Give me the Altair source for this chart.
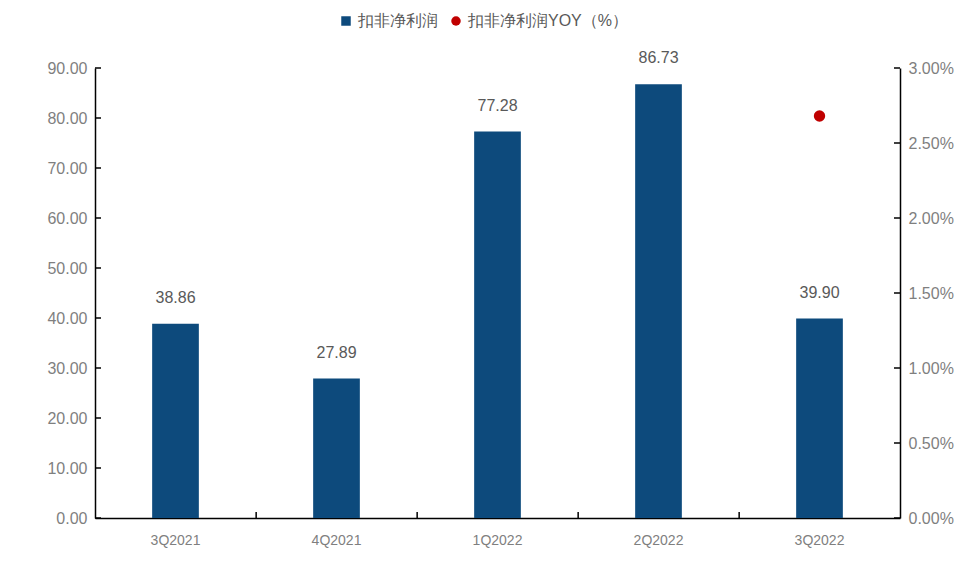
import altair as alt
import pandas as pd

quarters = ["3Q2021", "4Q2021", "1Q2022", "2Q2022", "3Q2022"]
profit = [38.86, 27.89, 77.28, 86.73, 39.90]
yoy = [None, None, None, None, 0.0268]
series = ["扣非净利润", "扣非净利润YOY（%）"]
left_ticks = [0, 10, 20, 30, 40, 50, 60, 70, 80, 90]
right_ticks = [0, 0.005, 0.01, 0.015, 0.02, 0.025, 0.03]

df = pd.DataFrame({"q": quarters, "profit": profit, "yoy": yoy})
df["s1"] = series[0]
df["s2"] = series[1]
lt = pd.DataFrame({"v": left_ticks})
rt = pd.DataFrame({"v": right_ticks})
bt = pd.DataFrame({"q": quarters[1:]})

GRAY = "#7f7f7f"
FONT = "Liberation Sans"

color_scale = alt.Scale(domain=series, range=["#0d4a7c", "#c00000"])
shape_scale = alt.Scale(domain=series, range=["square", "circle"])
xscale = alt.Scale(domain=quarters, paddingInner=0.71, paddingOuter=0.355)
yl = alt.Scale(domain=[0, 90], nice=False)
yr = alt.Scale(domain=[0, 0.03], nice=False)

x_axis = alt.Axis(title=None, labelAngle=0, ticks=False, grid=False,
                  labelPadding=15, labelFont=FONT, labelFontSize=14,
                  labelColor=GRAY, domainColor="black", domainWidth=1.5)
yl_axis = alt.Axis(title=None, values=left_ticks, format=".2f",
                   labelFont=FONT, labelFontSize=16, labelColor=GRAY,
                   labelPadding=8, grid=False, ticks=False,
                   domainColor="black", domainWidth=1.5)
yr_axis = alt.Axis(title=None, orient="right", values=right_ticks,
                   format=".2%", labelFont=FONT, labelFontSize=16, labelColor=GRAY,
                   labelPadding=8, grid=False, ticks=False,
                   domainColor="black", domainWidth=1.5)

legend = alt.Legend(
    title=None, orient="none", direction="horizontal", legendX=243, legendY=-55,
    labelFont=FONT, labelFontSize=16, labelColor="#595959", columnPadding=10,
    labelLimit=400, symbolSize=90, symbolStrokeWidth=0, symbolOpacity=1,
)

bars = alt.Chart(df).mark_bar().encode(
    x=alt.X("q:N", sort=quarters, scale=xscale, axis=x_axis),
    y=alt.Y("profit:Q", scale=yl, axis=yl_axis),
    color=alt.Color("s1:N", scale=color_scale, legend=legend),
)

labels = alt.Chart(df).mark_text(baseline="bottom", dy=-18, font=FONT, fontSize=16,
                                 color="#595959").encode(
    x=alt.X("q:N", sort=quarters, axis=x_axis),
    y=alt.Y("profit:Q", axis=yl_axis),
    text=alt.Text("profit:Q", format=".2f"),
)

lticks = alt.Chart(lt).mark_rule(color="black", strokeWidth=1.5).encode(
    y=alt.Y("v:Q", axis=yl_axis),
    x=alt.value(0), x2=alt.value(6),
)

bticks = alt.Chart(bt).mark_rule(color="black", strokeWidth=1.5, xOffset=-57).encode(
    x=alt.X("q:N", sort=quarters, bandPosition=0, axis=x_axis),
    y=alt.value(450), y2=alt.value(444),
)

left = alt.layer(bars, labels, lticks, bticks)

dots = alt.Chart(df).transform_filter("isValid(datum.yoy)").mark_point(
    filled=True, size=130, opacity=1).encode(
    x=alt.X("q:N", sort=quarters, axis=x_axis),
    y=alt.Y("yoy:Q", scale=yr, axis=yr_axis),
    color=alt.Color("s2:N", scale=color_scale, legend=legend),
    shape=alt.Shape("s2:N", scale=shape_scale, legend=legend),
)

rticks = alt.Chart(rt).mark_rule(color="black", strokeWidth=1.5).encode(
    y=alt.Y("v:Q", axis=yr_axis),
    x=alt.value(805), x2=alt.value(799),
)

right = alt.layer(dots, rticks)

chart = alt.layer(left, right).resolve_scale(y="independent").properties(
    width=805, height=450,
    autosize=alt.AutoSizeParams(type="none"),
    padding={"left": 95, "right": 63, "top": 68, "bottom": 44},
).configure(background="white").configure_view(stroke="transparent", strokeWidth=0)

chart.save("out.html", embed_options={"renderer": "svg", "actions": False})
